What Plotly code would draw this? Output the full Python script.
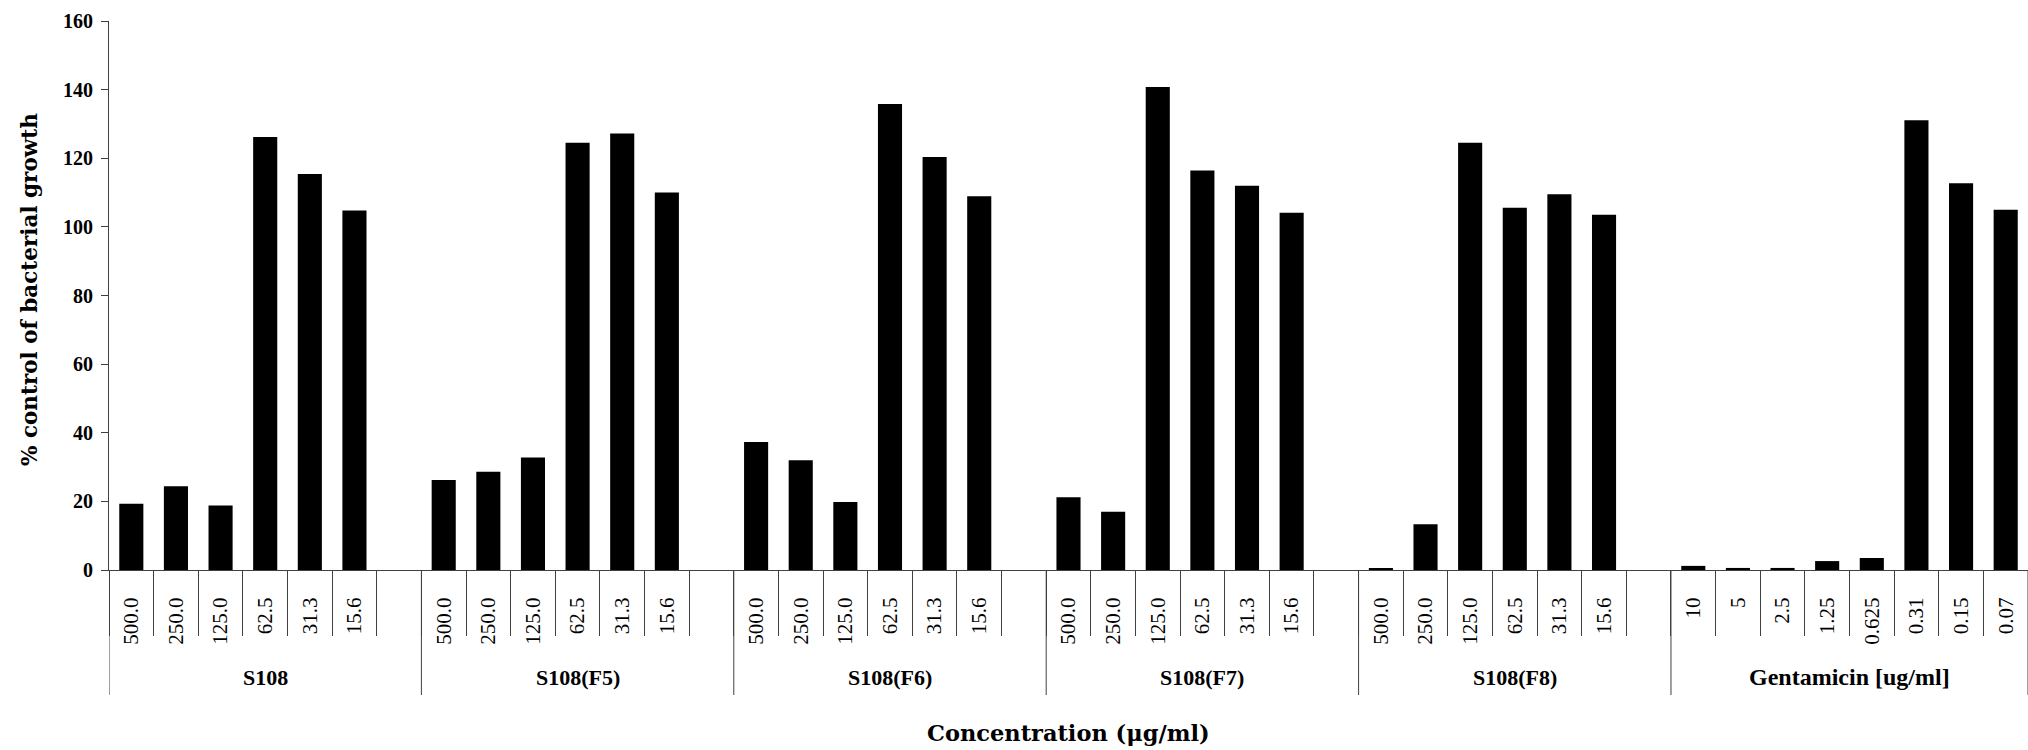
import plotly.graph_objects as go

# Samples and the concentrations tested for each
groups = ["S108", "S108(F5)", "S108(F6)", "S108(F7)", "S108(F8)", "Gentamicin [ug/ml]"]
sample_conc = ["500.0", "250.0", "125.0", "62.5", "31.3", "15.6"]
gentamicin_conc = ["10", "5", "2.5", "1.25", "0.625", "0.31", "0.15", "0.07"]

# % control of bacterial growth
s108 = [19.3, 24.4, 18.8, 126.2, 115.4, 104.8]
s108_f5 = [26.2, 28.6, 32.8, 124.5, 127.2, 110.0]
s108_f6 = [37.3, 32.0, 19.8, 135.8, 120.4, 108.9]
s108_f7 = [21.2, 17.0, 140.8, 116.4, 112.0, 104.1]
s108_f8 = [0.5, 13.3, 124.5, 105.6, 109.5, 103.5]
gentamicin = [1.2, 0.6, 0.6, 2.6, 3.5, 131.1, 112.7, 105.0]

group_labels = [sample_conc] * 5 + [gentamicin_conc]
group_values = [s108, s108_f5, s108_f6, s108_f7, s108_f8, gentamicin]
# each sample group is followed by one empty slot
trailing_blank = [1, 1, 1, 1, 1, 0]

xs, ys, tick_vals, tick_text = [], [], [], []
boundaries, dividers, centers = [], [], []
pos = 0
for labels, vals, blank in zip(group_labels, group_values, trailing_blank):
    start = pos
    for lab, v in zip(labels, vals):
        xs.append(pos)
        ys.append(v)
        tick_vals.append(pos)
        tick_text.append(lab)
        pos += 1
    pos += blank
    dividers.append(start - 0.5)
    centers.append((start + pos - 1) / 2)
    boundaries.extend([k - 0.5 for k in range(start, pos + 1)])
dividers.append(pos - 0.5)
n_slots = pos

W, H = 2028, 750
M_L, M_R, M_T, M_B = 109, 0, 21, 180
plot_h = H - M_T - M_B

def paper_y(px):
    """Pixel offset below the x axis -> paper coordinate."""
    return -px / plot_h

AXIS = "#404040"

fig = go.Figure(
    go.Bar(
        x=xs,
        y=ys,
        width=0.54,
        marker=dict(color="black", line=dict(width=0)),
        hoverinfo="y",
    )
)

shapes = [
    dict(type="line", xref="x", yref="paper", x0=d, x1=d, y0=0, y1=paper_y(125),
         line=dict(color=AXIS, width=1))
    for d in dividers
]

annotations = []
for name, c in zip(groups, centers):
    annotations.append(dict(
        text=f"<b>{name}</b>", x=c, xref="x", y=paper_y(107), yref="paper",
        showarrow=False, xanchor="center", yanchor="middle",
        font=dict(family="Liberation Serif", size=24 if name.startswith("Gent") else 22, color="black"),
    ))

annotations.append(dict(
    text="<b>Concentration (μg/ml)</b>", x=0.5, xref="paper", y=paper_y(163), yref="paper",
    showarrow=False, xanchor="center", yanchor="middle",
    font=dict(family="DejaVu Serif", size=22.5, color="black"),
))
annotations.append(dict(
    text="<b>% control of bacterial growth</b>", x=-80 / (W - M_L - M_R), xref="paper",
    y=0.51, yref="paper", textangle=-90, showarrow=False,
    xanchor="center", yanchor="middle",
    font=dict(family="DejaVu Serif", size=21.5, color="black"),
))

fig.update_layout(
    width=W,
    height=H,
    margin=dict(l=M_L, r=M_R, t=M_T, b=M_B),
    paper_bgcolor="white",
    plot_bgcolor="white",
    showlegend=False,
    shapes=shapes,
    annotations=annotations,
    xaxis=dict(
        range=[-0.5, n_slots - 0.5],
        tickmode="array",
        tickvals=tick_vals,
        ticktext=tick_text,
        tickangle=-90,
        ticks="",
        ticklabelstandoff=18,
        tickfont=dict(family="Liberation Serif", size=21, color="black"),
        showline=True,
        linecolor=AXIS,
        linewidth=1,
        showgrid=False,
        zeroline=False,
        minor=dict(tickmode="array", tickvals=boundaries, ticks="outside",
                   ticklen=65, tickwidth=1, tickcolor=AXIS, showgrid=False),
    ),
    yaxis=dict(
        range=[0, 160],
        dtick=20,
        ticks="outside",
        ticklen=7,
        tickwidth=1,
        tickcolor=AXIS,
        ticklabelstandoff=4,
        tickfont=dict(family="Liberation Serif", size=20, color="black", weight="bold"),
        showline=True,
        linecolor=AXIS,
        linewidth=1,
        showgrid=False,
        zeroline=False,
    ),
)

fig.write_html("out.html")
